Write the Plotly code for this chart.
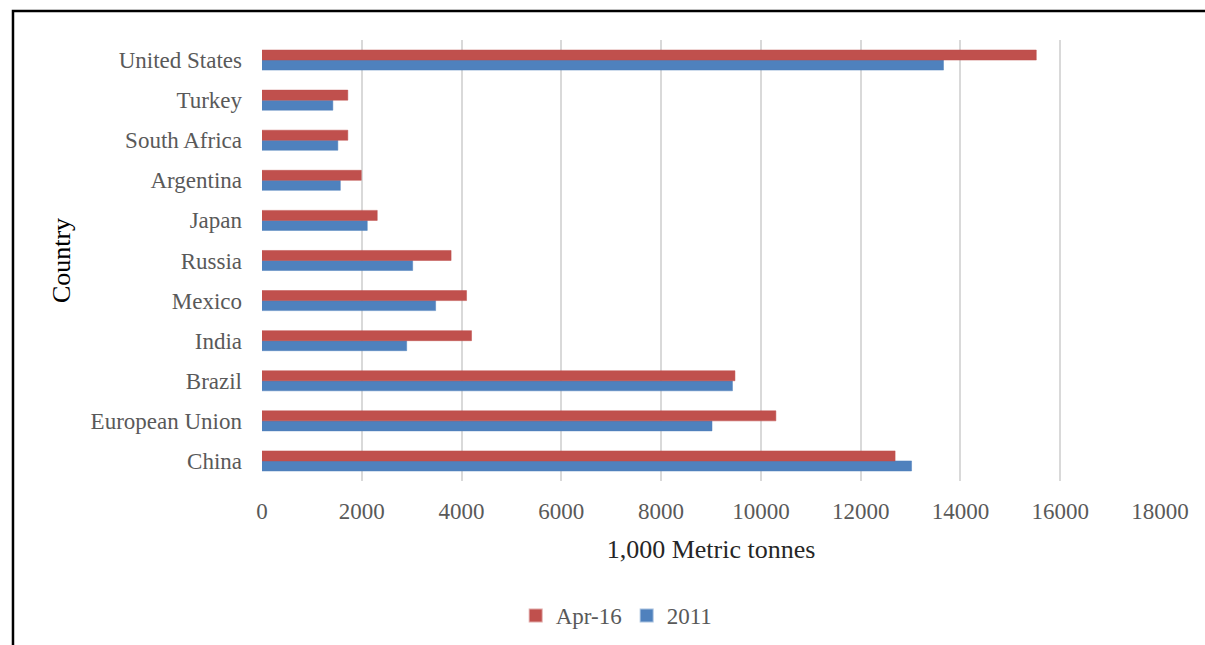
import plotly.graph_objects as go

# Countries listed bottom to top
countries = ["China", "European Union", "Brazil", "India", "Mexico", "Russia",
             "Japan", "Argentina", "South Africa", "Turkey", "United States"]
apr16 = [12690, 10300, 9480, 4200, 4100, 3790, 2310, 1990, 1720, 1720, 15520]
y2011 = [13020, 9020, 9430, 2900, 3480, 3020, 2110, 1570, 1520, 1420, 13660]
x_ticks = [0, 2000, 4000, 6000, 8000, 10000, 12000, 14000, 16000, 18000]

RED = "#C0504D"
BLUE = "#4F81BD"
FONT = "Liberation Serif"

fig = go.Figure()
fig.add_trace(go.Bar(y=countries, x=y2011, name="2011", orientation="h",
                     marker=dict(color=BLUE, line=dict(color="rgba(79,129,189,0.5)", width=1))))
fig.add_trace(go.Bar(y=countries, x=apr16, name="Apr-16", orientation="h",
                     marker=dict(color=RED, line=dict(color="rgba(192,80,77,0.5)", width=1))))

fig.update_layout(
    width=1205, height=645,
    margin=dict(l=262, r=45, t=40, b=164, autoexpand=False),
    paper_bgcolor="white", plot_bgcolor="white",
    barmode="group", bargap=0.5, bargroupgap=0,
    font=dict(family=FONT, size=23, color="#595959"),
    showlegend=True,
    legend=dict(orientation="h", traceorder="reversed",
                x=0.395, xanchor="center", y=-0.305, yanchor="middle",
                font=dict(family=FONT, size=23, color="#595959"),
                itemsizing="constant"),
    xaxis=dict(range=[0, 18000], tickvals=x_ticks, ticktext=[str(v) for v in x_ticks],
               showgrid=True, gridcolor="#D9D9D9", gridwidth=1.5,
               zeroline=False, showline=False, ticks="",
               ticklabelstandoff=14, automargin=False,
               tickfont=dict(family=FONT, size=23, color="#595959"),
               title=dict(text="1,000 Metric tonnes",
                          font=dict(family=FONT, size=26, color="#262626"),
                          standoff=16),
               fixedrange=True),
    yaxis=dict(type="category", categoryorder="array", categoryarray=countries,
               showgrid=False, zeroline=False, showline=False, ticks="",
               ticklabelstandoff=19, automargin=False,
               tickfont=dict(family=FONT, size=23, color="#595959"),
               title=dict(text="Country",
                          font=dict(family=FONT, size=26, color="#000000"),
                          standoff=12),
               fixedrange=True),
    shapes=[dict(type="rect", xref="paper", yref="paper",
                 x0=-0.2773, x1=1.2, y0=-0.6, y1=1.0658,
                 line=dict(color="black", width=2.5), fillcolor="rgba(0,0,0,0)",
                 layer="above")],
)

fig.write_html("out.html")
